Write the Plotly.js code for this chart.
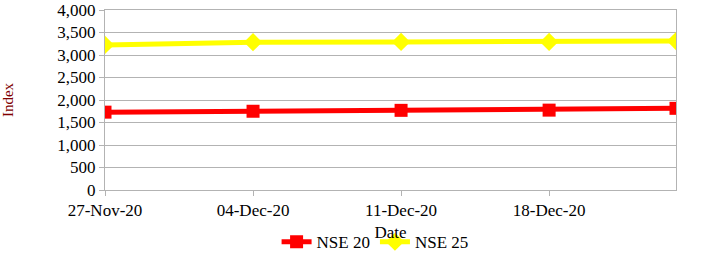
<!DOCTYPE html>
<html><head><meta charset="utf-8">
<script src="https://cdn.plot.ly/plotly-3.0.1.min.js"></script>
<style>body{margin:0;background:#fff}#c{width:713px;height:265px}</style>
</head><body><div id="c"></div>
<script>
const dates = ['2020-11-27','2020-12-04','2020-12-11','2020-12-18','2020-12-24'];
const nse20 = [1730, 1750, 1770, 1775, 1815];
const nse25 = [3225, 3285, 3290, 3290, 3310];
const tickVals = ['2020-11-27','2020-12-04','2020-12-11','2020-12-18'];
const tickText = ['27-Nov-20','04-Dec-20','11-Dec-20','18-Dec-20'];
const FONT = '"Liberation Serif", "DejaVu Serif", serif';
const traces = [
  {x: dates, y: nse20, name: 'NSE 20', mode: 'lines+markers', type: 'scatter',
   line: {color: '#ff0000', width: 5}, marker: {symbol: 'square', size: 13, color: '#ff0000'}},
  {x: dates, y: nse25, name: 'NSE 25', mode: 'lines+markers', type: 'scatter',
   line: {color: '#ffff00', width: 5}, marker: {symbol: 'diamond', size: 14, color: '#ffff00'}}
];
const layout = {
  width: 713, height: 265,
  margin: {l: 105, r: 37, t: 10, b: 75, autoexpand: false},
  paper_bgcolor: '#fff', plot_bgcolor: '#fff',
  font: {family: FONT, size: 17, color: '#000'},
  showlegend: true,
  legend: {orientation: 'h', x: 0.473, xanchor: 'center', y: -0.29, yanchor: 'middle',
           font: {family: FONT, size: 17, color: '#000'}, itemwidth: 30, tracegroupgap: 0},
  xaxis: {type: 'date', range: ['2020-11-27','2020-12-24'], tickvals: tickVals, ticktext: tickText,
          showgrid: false, showline: true, mirror: true, linecolor: '#b3b3b3', linewidth: 1,
          ticks: 'outside', ticklen: 5, tickcolor: '#b3b3b3', zeroline: false, automargin: false,
          tickfont: {family: FONT, size: 17, color: '#000'},
          title: {text: 'Date', font: {family: FONT, size: 17, color: '#000'}, standoff: 6}},
  yaxis: {range: [0, 4000], dtick: 500, tickformat: ',d', showgrid: true, gridcolor: '#b3b3b3', gridwidth: 1,
          showline: true, mirror: true, linecolor: '#b3b3b3', linewidth: 1, zeroline: false, automargin: false,
          ticks: 'outside', ticklen: 5, tickcolor: '#b3b3b3',
          tickfont: {family: FONT, size: 17, color: '#000'},
          title: {text: 'Index', font: {family: FONT, size: 15, color: '#800000'}, standoff: 40}}
};
Plotly.newPlot('c', traces, layout, {displayModeBar: false, staticPlot: true});
</script></body></html>
